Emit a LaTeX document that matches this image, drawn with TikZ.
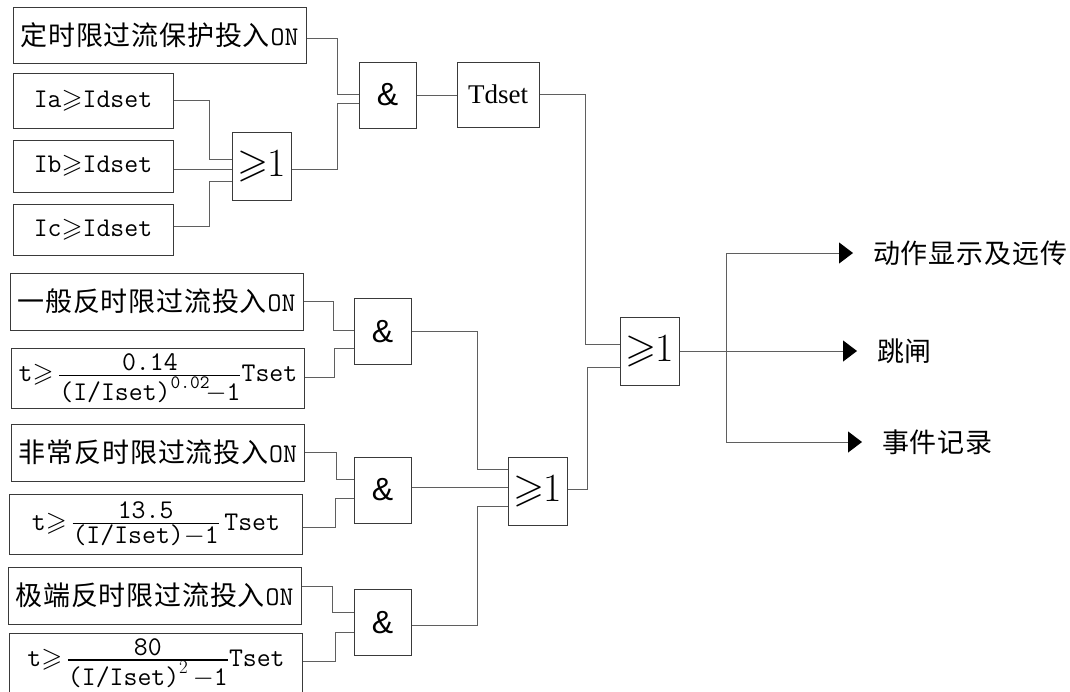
\RequirePackage{fix-cm}
\documentclass[tikz,border=0pt]{standalone}
\usepackage{amsmath}
\usepackage{amssymb}
\usepackage{fontspec}
\newfontfamily\cjk[LetterSpace=3]{Noto Sans CJK SC}
\newfontfamily\arial{Liberation Sans}
\newfontfamily\tms{Liberation Serif}
\usepackage{tikz}
\usetikzlibrary{calc}
\usetikzlibrary{arrows.meta}
\definecolor{WIR}{HTML}{5F5F5F}
\definecolor{BOR}{HTML}{3A3A3A}
\newcommand\ANDs{{\arial\fontsize{32}{34}\selectfont\&}}% gate text: and
\newcommand\ORs{{\fontsize{40}{44}\selectfont$\geqslant$\kern-1pt\rmfamily 1}}% gate text: or
\newcommand\tfr[2]{\frac{\textstyle #1\rule[-3pt]{0pt}{3pt}}{\textstyle #2}}% compact fraction
\newcommand\gq{\mathord{\geqslant}\mskip3mu}% tight relation
\tikzset{
  INB/.style={% Style for input condition boxes
      rectangle, line width=1pt,
      draw=BOR,
      minimum width=293pt,
      minimum height=57pt,
      inner sep=0pt,
      align=center,
      font=\fontsize{27}{30}\selectfont\cjk,
  },
  FRC/.style={% Input boxes holding a formula
      minimum height=60pt,
  },
  GAT/.style={% Style for logic gates
      rectangle, line width=1pt,
      draw=BOR,
      minimum width=57pt,
      minimum height=66pt,
      inner sep=0pt,
  },
  ORG/.style={% or gates are a bit larger
      minimum width=59pt,
      minimum height=68pt,
  },
  DLY/.style={% timer box
      minimum width=82pt,
      minimum height=65pt,
      font=\tms\fontsize{27}{30}\selectfont,
  },
  OUT/.style={% text at the arrow heads
      anchor=west,
      inner xsep=20pt,
      inner ysep=0pt,
      font=\fontsize{27}{30}\selectfont\cjk,
  },
  WIR/.style={draw=WIR, line width=1pt},
  ARR/.style={-{Triangle[length=14pt,width=21pt,color=black]}},
  kink/.style={% go right by #1, then vertical, then into the target
    to path={-- ([xshift=#1]\tikztostart) |- (\tikztotarget)}
  },
}
\begin{document}
\begin{tikzpicture}[x=1pt,y=-1pt]
  \useasboundingbox (0,0) rectangle (1070,691);
  % definite time stage
  \node[INB, minimum height=56pt] (dt) at (159.5,35) {定时限过流保护投入\texttt{ON}};
  \foreach \ph/\yy/\hh in {a/100.5/55, b/166/52, c/229.5/51} {%
    \node[INB, minimum width=160pt, minimum height=\hh pt] (I\ph) at (93,\yy) {\texttt{I\ph}$\geqslant$\texttt{Idset}};
  }
  \node[GAT, ORG] (or1) at (261.5,166) {\ORs};
  \node[GAT] (and1) at (387.5,95) {\ANDs};
  \node[GAT, DLY] (tds) at (498,94.5) {Tdset};
  % inverse time stages
  \node[INB] (g1) at (156.5,301.5) {一般反时限过流投入\texttt{ON}};
  \node[INB, FRC] (f1) at (158,378) {$\texttt{t}\gq\tfr{\texttt{0.14}}{\texttt{(I/Iset)}^{\texttt{0.02}}\!{-}\texttt{1}}\texttt{Tset}$};
  \node[INB] (g2) at (158,452.5) {非常反时限过流投入\texttt{ON}};
  \node[INB, FRC] (f2) at (156,524) {$\texttt{t}\gq\tfr{\texttt{13.5}}{\texttt{(I/Iset)}{-}\texttt{1}}\,\texttt{Tset}$};
  \node[INB] (g3) at (154.5,595.5) {极端反时限过流投入\texttt{ON}};
  \node[INB, FRC] (f3) at (156,663) {$\texttt{t}\gq\tfr{\texttt{80}}{\texttt{(I/Iset)}^{2}\,{-}\texttt{1}}\texttt{Tset}$};
  \node[GAT] (and2) at (382.5,331.5) {\ANDs};
  \node[GAT] (and3) at (382.5,490) {\ANDs};
  \node[GAT] (and4) at (382.5,622.5) {\ANDs};
  \node[GAT, ORG] (or2) at (537.5,491.5) {\ORs};
  \node[GAT, ORG] (or3) at (650,351) {\ORs};
  % outputs
  \node[OUT] (act) at (853,253) {动作显示及远传};
  \node[OUT] (trp) at (857,351) {跳闸};
  \node[OUT] (rec) at (862,442) {事件记录};
  % gate pins
  \coordinate (and1a) at ([yshift=1pt]and1.west);
  \coordinate (and1b) at ([yshift=-8pt]and1.west);
  \coordinate (or1a) at ([yshift=7pt]or1.west);
  \coordinate (or1b) at ([yshift=-3pt]or1.west);
  \coordinate (or1c) at ([yshift=-15pt]or1.west);
  \coordinate (and2a) at ([yshift=1.5pt]and2.west);
  \coordinate (and2b) at ([yshift=-16.5pt]and2.west);
  \coordinate (and3a) at ([yshift=11pt]and3.west);
  \coordinate (and3b) at ([yshift=-8pt]and3.west);
  \coordinate (and4a) at ([yshift=10.5pt]and4.west);
  \coordinate (and4b) at ([yshift=-9.5pt]and4.west);
  \coordinate (or2a) at ([yshift=22.5pt]or2.west);
  \coordinate (or2b) at ([yshift=4.5pt]or2.west);
  \coordinate (or2c) at ([yshift=-14.5pt]or2.west);
  \coordinate (or3a) at ([yshift=7pt]or3.west);
  \coordinate (or3b) at ([yshift=-16pt]or3.west);
  \coordinate (jn) at ([xshift=46pt]or3.east);
  % wires
  \draw[WIR] ([yshift=-3pt]dt.east) to[kink=31pt] (and1a);
  \draw[WIR] ([yshift=-3pt]or1.east) to[kink=46pt] (and1b);
  \draw[WIR] (Ia.east) to[kink=36pt] (or1a);
  \draw[WIR] ([yshift=-3pt]Ib.east) -- (or1b);
  \draw[WIR] ([yshift=3.5pt]Ic.east) to[kink=36pt] (or1c);
  \draw[WIR] (and1.east) -- (and1.east -| tds.west);
  \draw[WIR] (tds.east) to[kink=46pt] (or3a);
  \draw[WIR] ([yshift=2.5pt]or2.east) to[kink=20pt] (or3b);
  \draw[WIR] (g1.east) to[kink=30pt] (and2a);
  \draw[WIR] ([yshift=1pt]f1.east) to[kink=29pt] (and2b);
  \draw[WIR] (and2.east) to[kink=66pt] (or2a);
  \draw[WIR] (g2.east) to[kink=31pt] (and3a);
  \draw[WIR] ([yshift=-3pt]f2.east) to[kink=32pt] (and3b);
  \draw[WIR] (and3.east |- or2b) -- (or2b);
  \draw[WIR] ([yshift=9.5pt]g3.east) to[kink=31pt] (and4a);
  \draw[WIR] ([yshift=2pt]f3.east) to[kink=32pt] (and4b);
  \draw[WIR] ([yshift=-2.5pt]and4.east) to[kink=66pt] (or2c);
  \draw[WIR] (or3.east) -- (jn);
  \draw[WIR, ARR] (jn) -- (trp.west);
  \draw[WIR, ARR] (jn) |- (act.west);
  \draw[WIR, ARR] (jn) |- (rec.west);
\end{tikzpicture}
\end{document}
